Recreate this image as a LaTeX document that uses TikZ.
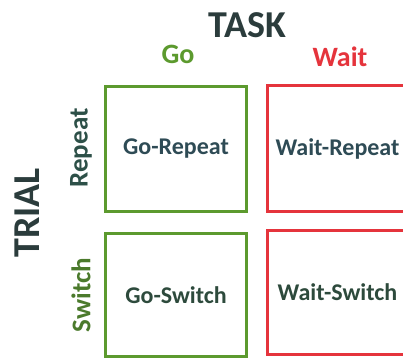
\documentclass[tikz,border=0pt]{standalone}
\usepackage{fontspec}
\setmainfont{Carlito}
\definecolor{gogreen}{HTML}{5C9A2E}
\definecolor{waitred}{HTML}{E5343C}
\definecolor{headdark}{HTML}{2B3C3C}
\definecolor{cellslate}{HTML}{2E4B55}
\definecolor{cellgreen}{HTML}{2D4A3C}
\definecolor{rowteal}{HTML}{2D5048}
\definecolor{rowgreen}{HTML}{4B7A2C}
\tikzset{
  cellbox/.style={draw=#1, line width=3pt, minimum width=141pt, minimum height=125pt,
    inner sep=0pt, font=\bfseries\fontsize{24}{26}\selectfont},
  heading/.style={font=\bfseries\fontsize{38}{40}\selectfont, text=headdark, inner sep=0pt},
  colhead/.style={font=\bfseries\fontsize{28}{30}\selectfont, text=#1, inner sep=0pt},
  rowhead/.style={font=\bfseries\fontsize{27}{29}\selectfont, text=#1, inner sep=0pt, rotate=90},
}
\begin{document}
\begin{tikzpicture}[x=1pt,y=-1pt]
  \useasboundingbox (0,0) rectangle (403,358);
  \clip (0,0) rectangle (403,358);
  \fill[white] (0,0) rectangle (403,358);

  % axis titles
  \node[heading] (task) at (247,25) {TASK};
  \node[heading, rotate=90] (trial) at (27,213) {TRIAL};

  % column headings
  \node[colhead=gogreen] (go) at (178,54) {Go};
  \node[colhead=waitred] (wait) at (340,57) {Wait};

  % row headings
  \node[rowhead=rowteal] (repeat) at (81,148) {Repeat};
  \node[rowhead=rowgreen] (switch) at (81,295) {Switch};

  % the four cells
  \node[cellbox=gogreen, text=cellslate] (gorep) at (176,149) {Go-Repeat};
  \node[cellbox=waitred, text=cellslate] (waitrep) at (337.5,148.5) {Wait-Repeat};
  \node[cellbox=gogreen, text=cellgreen, minimum height=123pt] (gosw) at (176,295) {Go-Switch};
  \node[cellbox=waitred, text=cellgreen, minimum height=124pt] (waitsw) at (337.5,292) {Wait-Switch};
\end{tikzpicture}
\end{document}
